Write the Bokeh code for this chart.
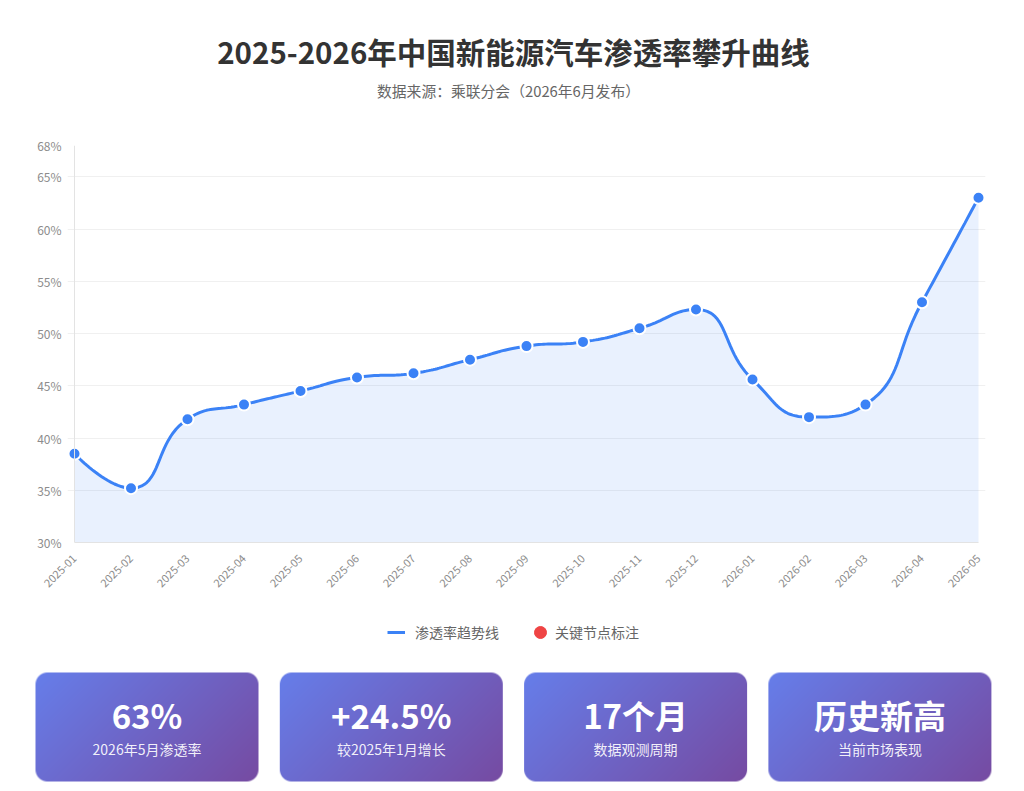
import numpy as np
from bokeh.plotting import figure
from bokeh.models import Range1d, FixedTicker, PrintfTickFormatter, Legend, LegendItem, Span
from bokeh.layouts import column
from bokeh.core.properties import value
from bokeh.embed import file_html
from bokeh.resources import INLINE

# ---------------- data ----------------
months = ["2025-01", "2025-02", "2025-03", "2025-04", "2025-05", "2025-06",
          "2025-07", "2025-08", "2025-09", "2025-10", "2025-11", "2025-12",
          "2026-01", "2026-02", "2026-03", "2026-04", "2026-05"]
rates = [38.5, 35.2, 41.8, 43.2, 44.5, 45.8, 46.2, 47.5, 48.8, 49.2, 50.5, 52.3,
         45.6, 42.0, 43.2, 53.0, 63.0]
y_ticks = [30, 35, 40, 45, 50, 55, 60, 65, 68]
title_text = "2025-2026年中国新能源汽车渗透率攀升曲线"
subtitle_text = "数据来源：乘联分会（2026年6月发布）"
legend_labels = ["渗透率趋势线", "关键节点标注"]
card_values = ["63%", "+24.5%", "17个月", "历史新高"]
card_labels = ["2026年5月渗透率", "较2025年1月增长", "数据观测周期", "当前市场表现"]

FONT = "Noto Sans CJK SC"
BLUE = "#3b82f6"
RED = "#ef4444"
W = 1008


def smooth_curve(xs, ys, smooth=0.5, sx=1.0, sy=1.0, n=24):
    """ECharts-like smooth polyline as dense points (rendering only)."""
    X = np.asarray(xs, float) * sx
    Y = np.asarray(ys, float) * sy
    N = len(X)
    px, py = [X[0]], [Y[0]]
    cpx0, cpy0 = X[0], Y[0]
    prevX, prevY = X[0], Y[0]
    for k in range(1, N):
        x, y = X[k], Y[k]
        if k + 1 >= N:
            cpx1, cpy1 = x, y
            ncx, ncy = x, y
        else:
            nextX, nextY = X[k + 1], Y[k + 1]
            vx, vy = nextX - prevX, nextY - prevY
            lp = np.hypot(x - prevX, y - prevY)
            ln = np.hypot(nextX - x, nextY - y)
            r = ln / (ln + lp)
            ncx = x + vx * smooth * r
            ncy = y + vy * smooth * r
            ncx = max(min(ncx, max(nextX, x)), min(nextX, x))
            ncy = max(min(ncy, max(nextY, y)), min(nextY, y))
            vx, vy = ncx - x, ncy - y
            cpx1 = x - vx * lp / ln
            cpy1 = y - vy * lp / ln
            cpx1 = max(min(cpx1, max(prevX, x)), min(prevX, x))
            cpy1 = max(min(cpy1, max(prevY, y)), min(prevY, y))
            vx, vy = x - cpx1, y - cpy1
            ncx = x + vx * ln / lp
            ncy = y + vy * ln / lp
        t = np.linspace(0, 1, n)[1:]
        bx = (1 - t) ** 3 * prevX + 3 * (1 - t) ** 2 * t * cpx0 + 3 * (1 - t) * t ** 2 * cpx1 + t ** 3 * x
        by = (1 - t) ** 3 * prevY + 3 * (1 - t) ** 2 * t * cpy0 + 3 * (1 - t) * t ** 2 * cpy1 + t ** 3 * y
        px.extend(bx)
        py.extend(by)
        cpx0, cpy0 = ncx, ncy
        prevX, prevY = x, y
    return np.array(px) / sx, np.array(py) / sy


def blank_fig(h):
    f = figure(width=W, height=h, x_range=Range1d(0, W), y_range=Range1d(0, h),
               output_backend="svg", toolbar_location=None, min_border=0)
    f.axis.visible = False
    f.grid.visible = False
    f.outline_line_color = None
    f.frame_align = False
    return f


# ---------------- header (page y 0..128) ----------------
HH = 128
header = blank_fig(HH)
header.text(x=[W / 2 + 9], y=[HH - 50], text=[title_text], text_font=value(FONT),
            text_font_style="bold", text_font_size="29.5px", text_color="#333333",
            text_align="center", text_baseline="middle")
header.text(x=[W / 2 + 4], y=[HH - 90], text=[subtitle_text], text_font=value(FONT),
            text_font_size="14.8px", text_color="#666666",
            text_align="center", text_baseline="middle")

# ---------------- chart (page y 128..600) ----------------
idx = list(range(len(months)))
CH = 472
PX_PER_CAT = 56.5
PAD_PX = 7                     # keep end markers unclipped
pad = PAD_PX / PX_PER_CAT
p = figure(width=W, height=CH,
           x_range=Range1d(idx[0] - pad, idx[-1] + pad), y_range=Range1d(30, 68),
           output_backend="svg", toolbar_location=None,
           min_border_left=74 - PAD_PX, min_border_right=30 - PAD_PX,
           min_border_top=17, min_border_bottom=58)
p.frame_align = False
p.outline_line_color = None
p.xgrid.visible = False
p.ygrid.grid_line_color = "#f0f0f0"
p.ygrid.ticker = FixedTicker(ticks=y_ticks)

p.yaxis.ticker = FixedTicker(ticks=y_ticks)
p.yaxis.formatter = PrintfTickFormatter(format="%d%%")
p.yaxis.axis_line_color = None
p.xaxis.axis_line_color = "#e3e3e3"
p.xaxis.ticker = FixedTicker(ticks=idx)
p.xaxis.bounds = (idx[0], idx[-1])
p.xaxis.major_label_overrides = {i: m for i, m in zip(idx, months)}
p.xaxis.major_label_orientation = np.pi / 4
for ax in (p.xaxis, p.yaxis):
    ax.major_tick_line_color = None
    ax.minor_tick_line_color = None
    ax.major_label_text_font = FONT
    ax.major_label_text_color = "#8c8c8c"
p.xaxis.major_label_text_font_size = "11px"
p.yaxis.major_label_text_font_size = "12px"
p.yaxis.major_label_standoff = 0
p.xaxis.major_label_standoff = 8
p.add_layout(Span(location=idx[0], dimension="height", line_color="#e3e3e3", line_width=1))

cx, cy = smooth_curve(idx, rates, sx=PX_PER_CAT, sy=10.46)
p.varea(x=cx, y1=np.full_like(cy, 30.0), y2=cy, fill_color=BLUE, fill_alpha=0.11)
p.line(cx, cy, line_color=BLUE, line_width=3)
p.scatter(idx, rates, size=12, fill_color=BLUE, line_color="white", line_width=2)

# ---------------- bottom: legend + cards (page y 600..789) ----------------
BH = 189
b = blank_fig(BH)

r_line = b.line(x=idx, y=rates, line_color=BLUE, line_width=3, visible=False)
r_dot = b.scatter(x=idx, y=rates, size=12, fill_color=RED, line_color=RED, visible=False)
common = dict(orientation="horizontal", label_text_font=FONT, label_text_font_size="14px",
              label_text_color="#666666", border_line_color=None, background_fill_alpha=0,
              padding=0, margin=0, inactive_fill_alpha=0)
leg_center = BH - 32   # vertical centre of the legend row (from bottom)
legend1 = Legend(items=[LegendItem(label=legend_labels[0], renderers=[r_line])],
                 location=(387, leg_center - 10), glyph_width=18, glyph_height=14,
                 label_height=20, label_standoff=10, **common)
legend2 = Legend(items=[LegendItem(label=legend_labels[1], renderers=[r_dot])],
                 location=(525, leg_center - 15), glyph_width=30, glyph_height=30,
                 label_height=20, label_standoff=0, **common)
b.add_layout(legend1, "center")
b.add_layout(legend2, "center")

cw, ch, rad = 223, 109, 12
c0 = np.array([0x66, 0x7e, 0xea], float)
c1 = np.array([0x76, 0x4b, 0xa2], float)
yy, xx = np.mgrid[0:ch, 0:cw]
ydown = (ch - 1) - yy
tgrad = (xx + ydown) / float(cw + ch - 2)
rgb = c0[None, None, :] * (1 - tgrad[..., None]) + c1[None, None, :] * tgrad[..., None]
pxc = xx + 0.5
pyc = ydown + 0.5
dx = np.maximum(np.maximum(rad - pxc, pxc - (cw - rad)), 0)
dy = np.maximum(np.maximum(rad - pyc, pyc - (ch - rad)), 0)
dist = np.hypot(dx, dy)
alpha = np.clip(rad - dist + 0.5, 0, 1)
img = np.empty((ch, cw), dtype=np.uint32)
view = img.view(dtype=np.uint8).reshape((ch, cw, 4))
view[..., 0] = rgb[..., 0].astype(np.uint8)
view[..., 1] = rgb[..., 1].astype(np.uint8)
view[..., 2] = rgb[..., 2].astype(np.uint8)
view[..., 3] = (alpha * 255).astype(np.uint8)

n_cards = len(card_values)
card_x = [35 + i * 244.3 for i in range(n_cards)]
card_y0 = BH - (672 - 600) - ch
b.image_rgba(image=[img] * n_cards, x=card_x, y=[card_y0] * n_cards, dw=cw, dh=ch)
centers = [x + cw / 2 for x in card_x]
b.text(x=centers, y=[BH - 114] * n_cards, text=card_values, text_font=value(FONT),
       text_font_style="bold", text_font_size="33px", text_color="white",
       text_align="center", text_baseline="middle")
b.text(x=centers, y=[BH - 148] * n_cards, text=card_labels, text_font=value(FONT),
       text_font_size="14px", text_color="white", text_alpha=0.92,
       text_align="center", text_baseline="middle")

layout = column(header, p, b, spacing=0)
open("out.html", "w").write(file_html(layout, INLINE))
